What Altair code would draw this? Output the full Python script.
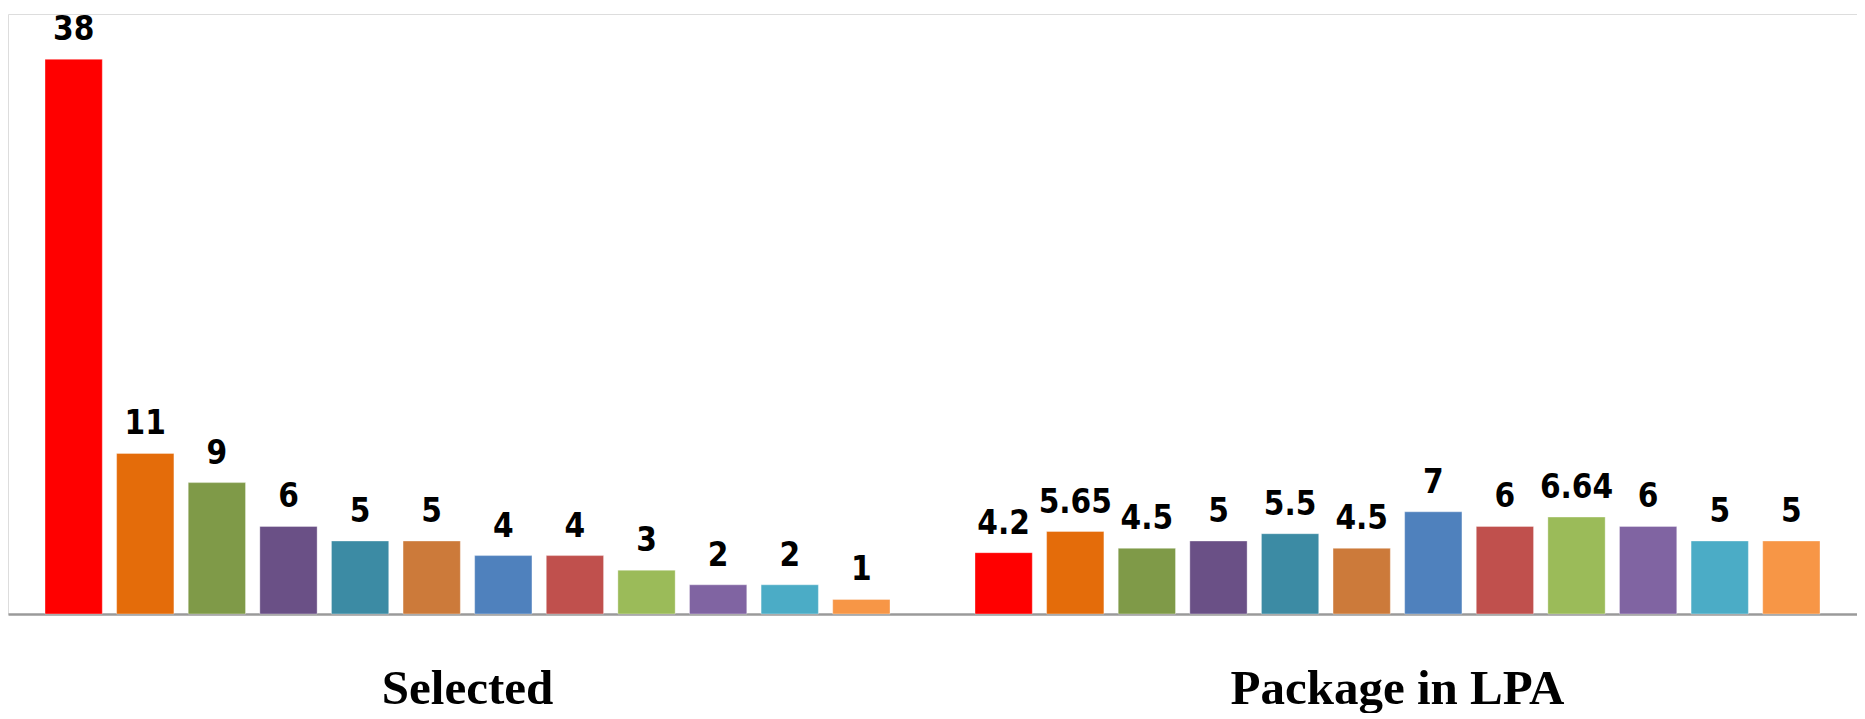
import altair as alt
import pandas as pd

groups = ["Selected", "Package in LPA"]
selected_values = [38, 11, 9, 6, 5, 5, 4, 4, 3, 2, 2, 1]
selected_labels = ["38", "11", "9", "6", "5", "5", "4", "4", "3", "2", "2", "1"]
package_values = [4.2, 5.65, 4.5, 5, 5.5, 4.5, 7, 6, 6.64, 6, 5, 5]
package_labels = ["4.2", "5.65", "4.5", "5", "5.5", "4.5", "7", "6", "6.64", "6", "5", "5"]
bar_colors = ["#FF0000", "#E46C0A", "#7F9A48", "#6A5086", "#3C8BA4", "#CC7A3A",
              "#4F81BD", "#C0504D", "#9BBB59", "#8064A2", "#4BACC6", "#F79646"]

rows = []
for g, vals, labs in [(groups[0], selected_values, selected_labels),
                      (groups[1], package_values, package_labels)]:
    for i, (v, l) in enumerate(zip(vals, labs)):
        rows.append({"group": g, "idx": i, "value": v, "label": l})
df = pd.DataFrame(rows)

base = alt.Chart(df).encode(
    x=alt.X("group:N", sort=groups,
            scale=alt.Scale(paddingInner=0.0914, paddingOuter=0.0398),
            axis=alt.Axis(title=None, labelAngle=0, labelFont="Liberation Serif",
                          labelFontWeight="bold", labelFontSize=49, labelColor="black",
                          labelPadding=50, labelLimit=1000, ticks=False,
                          domainColor="#9a9a9a", domainWidth=2.5)),
    xOffset=alt.XOffset("idx:O", scale=alt.Scale(paddingInner=0.2, paddingOuter=0)),
    y=alt.Y("value:Q", scale=alt.Scale(domain=[0, 41.1]), axis=None),
)

bars = base.mark_bar(strokeWidth=1, strokeOpacity=0.35, stroke="white").encode(
    color=alt.Color("idx:O", scale=alt.Scale(domain=list(range(12)), range=bar_colors),
                    legend=None)
)

text = base.mark_text(baseline="alphabetic", dy=-19,
                      font="DejaVu Sans Condensed, sans-serif",
                      fontWeight="bold", fontSize=33, color="black").encode(
    text="label:N"
)

chart = alt.layer(bars, text).properties(
    width=1849, height=600,
    padding={"left": 0, "top": 6, "right": 0, "bottom": 0},
).configure_view(stroke=None).configure(background="white")

chart.save("out.html", embed_options={"renderer": "svg", "actions": False})
